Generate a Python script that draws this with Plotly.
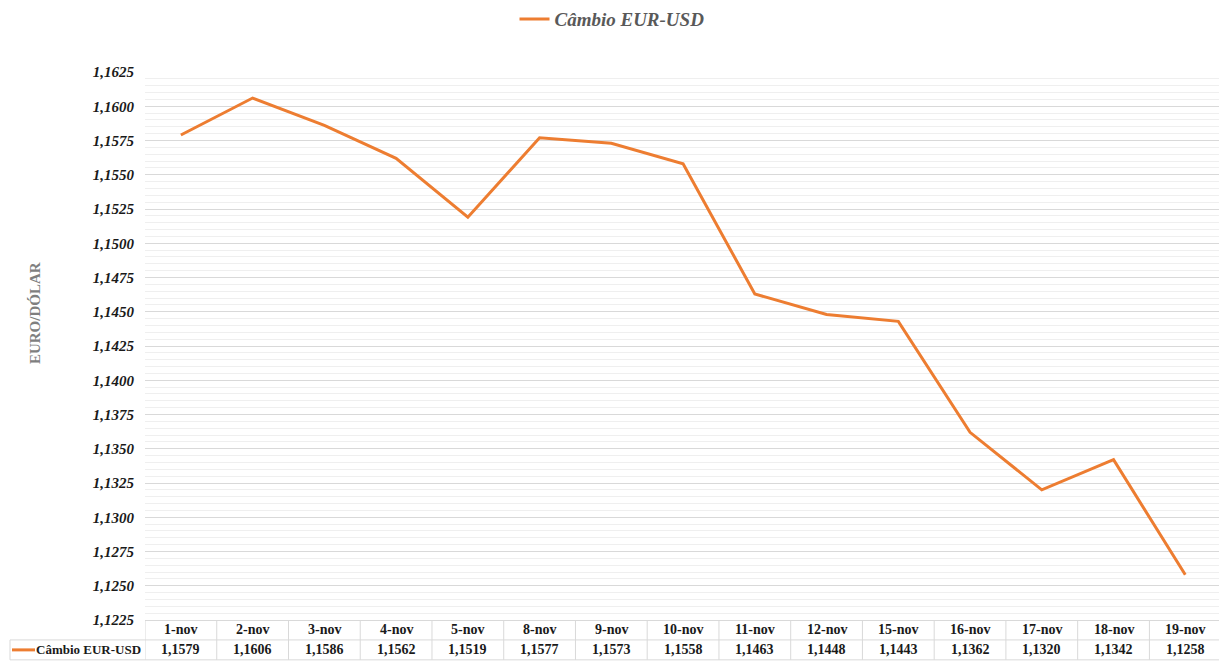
import plotly.graph_objects as go

categories = ["1-nov", "2-nov", "3-nov", "4-nov", "5-nov", "8-nov", "9-nov", "10-nov",
              "11-nov", "12-nov", "15-nov", "16-nov", "17-nov", "18-nov", "19-nov"]
values = [1.1579, 1.1606, 1.1586, 1.1562, 1.1519, 1.1577, 1.1573, 1.1558,
          1.1463, 1.1448, 1.1443, 1.1362, 1.1320, 1.1342, 1.1258]
series_name = "Câmbio EUR-USD"
y_title = "EURO/DÓLAR"

W, H = 1219, 661
ML, MR, MT, MB = 145, 0, 70, 41
PW, PH = W - ML - MR, H - MT - MB

def px_to_xpaper(px):
    return (px - ML) / PW

def px_to_ypaper(py):
    return (H - MB - py) / PH

ORANGE = "#ED7D31"
FONT = "Liberation Serif"
TXT = "#1a1a1a"
n = len(categories)

fig = go.Figure()
fig.add_trace(go.Scatter(x=categories, y=values, mode="lines", name=series_name,
                         line=dict(color=ORANGE, width=3)))

shapes = []
annotations = []
row1 = px_to_ypaper(630)
row2 = px_to_ypaper(650)
yb1 = px_to_ypaper(640)
yb2 = px_to_ypaper(660)
grid = "#d9d9d9"

for i, (c, v) in enumerate(zip(categories, values)):
    annotations.append(dict(x=c, xref="x", y=row1, yref="paper", yanchor="middle",
                            xanchor="center", text=c, showarrow=False,
                            font=dict(family=FONT, size=14, color=TXT, weight="bold")))
    annotations.append(dict(x=c, xref="x", y=row2, yref="paper", yanchor="middle",
                            xanchor="center", text=f"{v:.4f}".replace(".", ","), showarrow=False,
                            font=dict(family=FONT, size=14, color=TXT, weight="bold")))
for i in range(n + 1):
    shapes.append(dict(type="line", xref="x", yref="paper", x0=i - 0.5, x1=i - 0.5,
                       y0=0, y1=yb2, line=dict(color=grid, width=1)))
left = px_to_xpaper(10)
for yy in (yb1, yb2):
    shapes.append(dict(type="line", xref="paper", yref="paper", x0=left, x1=1,
                       y0=yy, y1=yy, line=dict(color=grid, width=1)))
shapes.append(dict(type="line", xref="paper", yref="paper", x0=left, x1=left,
                   y0=yb1, y1=yb2, line=dict(color=grid, width=1)))
shapes.append(dict(type="line", xref="paper", yref="paper", x0=px_to_xpaper(12),
                   x1=px_to_xpaper(35), y0=row2, y1=row2, line=dict(color=ORANGE, width=3)))
annotations.append(dict(x=px_to_xpaper(143), xref="paper", y=row2, yref="paper",
                        xanchor="right", yanchor="middle", text=series_name, showarrow=False,
                        font=dict(family=FONT, size=13, color=TXT, weight="bold")))
annotations.append(dict(x=px_to_xpaper(35), xref="paper", y=px_to_ypaper(312), yref="paper",
                        xanchor="center", yanchor="middle",
                        text=y_title, textangle=-90, showarrow=False,
                        font=dict(family=FONT, size=15, color="#7f7f7f", weight="bold")))

fig.update_layout(
    width=W, height=H,
    margin=dict(l=ML, r=MR, t=MT, b=MB),
    paper_bgcolor="white", plot_bgcolor="white",
    separators=",.",
    showlegend=True,
    legend=dict(orientation="h", x=px_to_xpaper(612), xanchor="center",
                y=1.0 + (MT - 17) / PH, yanchor="middle",
                font=dict(family=FONT, size=19, color="#595959",
                          weight="bold", style="italic")),
    xaxis=dict(type="category", range=[-0.5, n - 0.5 - 0.03], showticklabels=False,
               showgrid=False, zeroline=False, showline=True, linecolor=grid, ticks=""),
    yaxis=dict(range=[1.1225, 1.1625], dtick=0.0025, tick0=1.1225, tickformat=".4f",
               showgrid=True, gridcolor="#d9d9d9", gridwidth=1, zeroline=False,
               ticks="", ticklen=0, ticklabelstandoff=10,
               tickfont=dict(family=FONT, size=15, color=TXT, weight="bold", style="italic"),
               minor=dict(dtick=0.0005, showgrid=True, gridcolor="#efefef", gridwidth=1)),
    shapes=shapes, annotations=annotations,
)

fig.write_html("out.html", config={"displayModeBar": False},
               post_script="document.body.style.margin='0px';document.body.style.overflow='hidden';")
